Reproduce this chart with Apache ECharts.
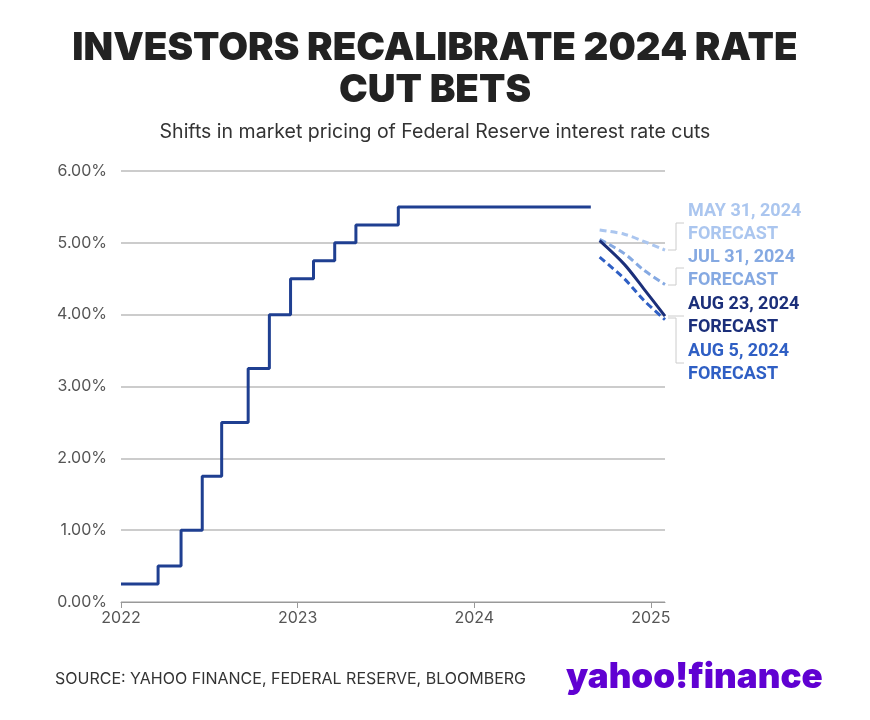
<!DOCTYPE html><html><head><meta charset="utf-8"><script src="https://cdn.jsdelivr.net/npm/echarts@6/dist/echarts.min.js"></script>
<style>body{margin:0;background:#fff}#c{width:870px;height:720px}</style></head><body><div id="c"></div><script>
const rateX=[2022.0,2022.21,2022.34,2022.46,2022.57,2022.72,2022.84,2022.96,2023.09,2023.21,2023.33,2023.57,2024.66];
const rateY=[0.25,0.5,1.0,1.75,2.5,3.25,4.0,4.5,4.75,5.0,5.25,5.5,5.5];
const fcX=[2024.71,2024.85,2024.96,2025.08];
const may31=[5.18,5.12,5.02,4.90];
const jul31=[5.05,4.85,4.62,4.42];
const aug23=[5.03,4.70,4.36,3.98];
const aug5=[4.80,4.50,4.20,3.93];
const yearTicks=[2022,2023,2024,2025];
const z=(xs,ys)=>xs.map((x,i)=>[x,ys[i]]);
const chart=echarts.init(document.getElementById('c'));
const F='Inter, Roboto, sans-serif';
const lbl=(t,y,c)=>({type:'text',left:688,top:y,style:{text:t,font:'bold 18px Roboto, sans-serif',fill:c,lineHeight:23}});
chart.setOption({
animation:false,
title:[{text:'INVESTORS RECALIBRATE 2024 RATE\nCUT BETS',left:'center',top:22,textStyle:{fontFamily:F,fontWeight:900,fontSize:38.5,lineHeight:42,color:'#222'}},
{text:'Shifts in market pricing of Federal Reserve interest rate cuts',left:'center',top:117,textStyle:{fontFamily:F,fontWeight:'normal',fontSize:19.5,color:'#333'}}],
grid:{left:121,right:205,top:171,bottom:118},
xAxis:{type:'value',min:2022,max:2025.08,interval:1,axisLabel:{showMaxLabel:false,color:'#555',fontSize:16,fontFamily:F,formatter:v=>yearTicks.includes(Math.round(v))?String(Math.round(v)):''},
axisLine:{lineStyle:{color:'#999'}},axisTick:{show:true,length:6,lineStyle:{color:'#999'}},splitLine:{show:false}},
yAxis:{type:'value',min:0,max:6,interval:1,axisLabel:{color:'#555',fontSize:16,fontFamily:F,margin:14,formatter:v=>v.toFixed(2)+'%'},axisLine:{show:false},axisTick:{show:false},splitLine:{lineStyle:{color:'#bbb',width:1.5}}},
series:[
{type:'line',step:'end',data:z(rateX,rateY),symbol:'none',lineStyle:{color:'#1f3f91',width:3}},
{type:'line',smooth:0.3,data:z(fcX,may31),symbol:'none',lineStyle:{color:'#abc6ef',width:3,type:[7,4]}},
{type:'line',smooth:0.3,data:z(fcX,jul31),symbol:'none',lineStyle:{color:'#85a9e2',width:3,type:[7,4]}},
{type:'line',smooth:0.3,data:z(fcX,aug5),symbol:'none',lineStyle:{color:'#2f5fc4',width:3,type:[7,4]}},
{type:'line',smooth:0.3,data:z(fcX,aug23),symbol:'none',lineStyle:{color:'#1b2f7a',width:3}}
]});
chart.setOption({graphic:[
lbl('MAY 31, 2024\nFORECAST',200,'#abc6ef'),
lbl('JUL 31, 2024\nFORECAST',246,'#85a9e2'),
lbl('AUG 23, 2024\nFORECAST',293,'#1b2f7a'),
lbl('AUG 5, 2024\nFORECAST',340,'#2f5fc4'),
{type:'polyline',shape:{points:[[668,250],[676,250],[676,223],[684,223]]},style:{stroke:'#ccc',fill:null,lineWidth:1}},
{type:'polyline',shape:{points:[[668,285],[676,285],[676,268],[684,268]]},style:{stroke:'#ccc',fill:null,lineWidth:1}},
{type:'polyline',shape:{points:[[668,316],[684,316]]},style:{stroke:'#ccc',fill:null,lineWidth:1}},
{type:'polyline',shape:{points:[[668,318],[676,318],[676,363],[684,363]]},style:{stroke:'#ccc',fill:null,lineWidth:1}},
{type:'text',left:55,top:671,style:{text:'SOURCE: YAHOO FINANCE, FEDERAL RESERVE, BLOOMBERG',font:'16px '+F,fill:'#333'}},
{type:'text',left:566,top:660,style:{text:'yahoo!finance',font:'900 35px '+F,fill:'#6001d2'}}
]});
</script></body></html>
